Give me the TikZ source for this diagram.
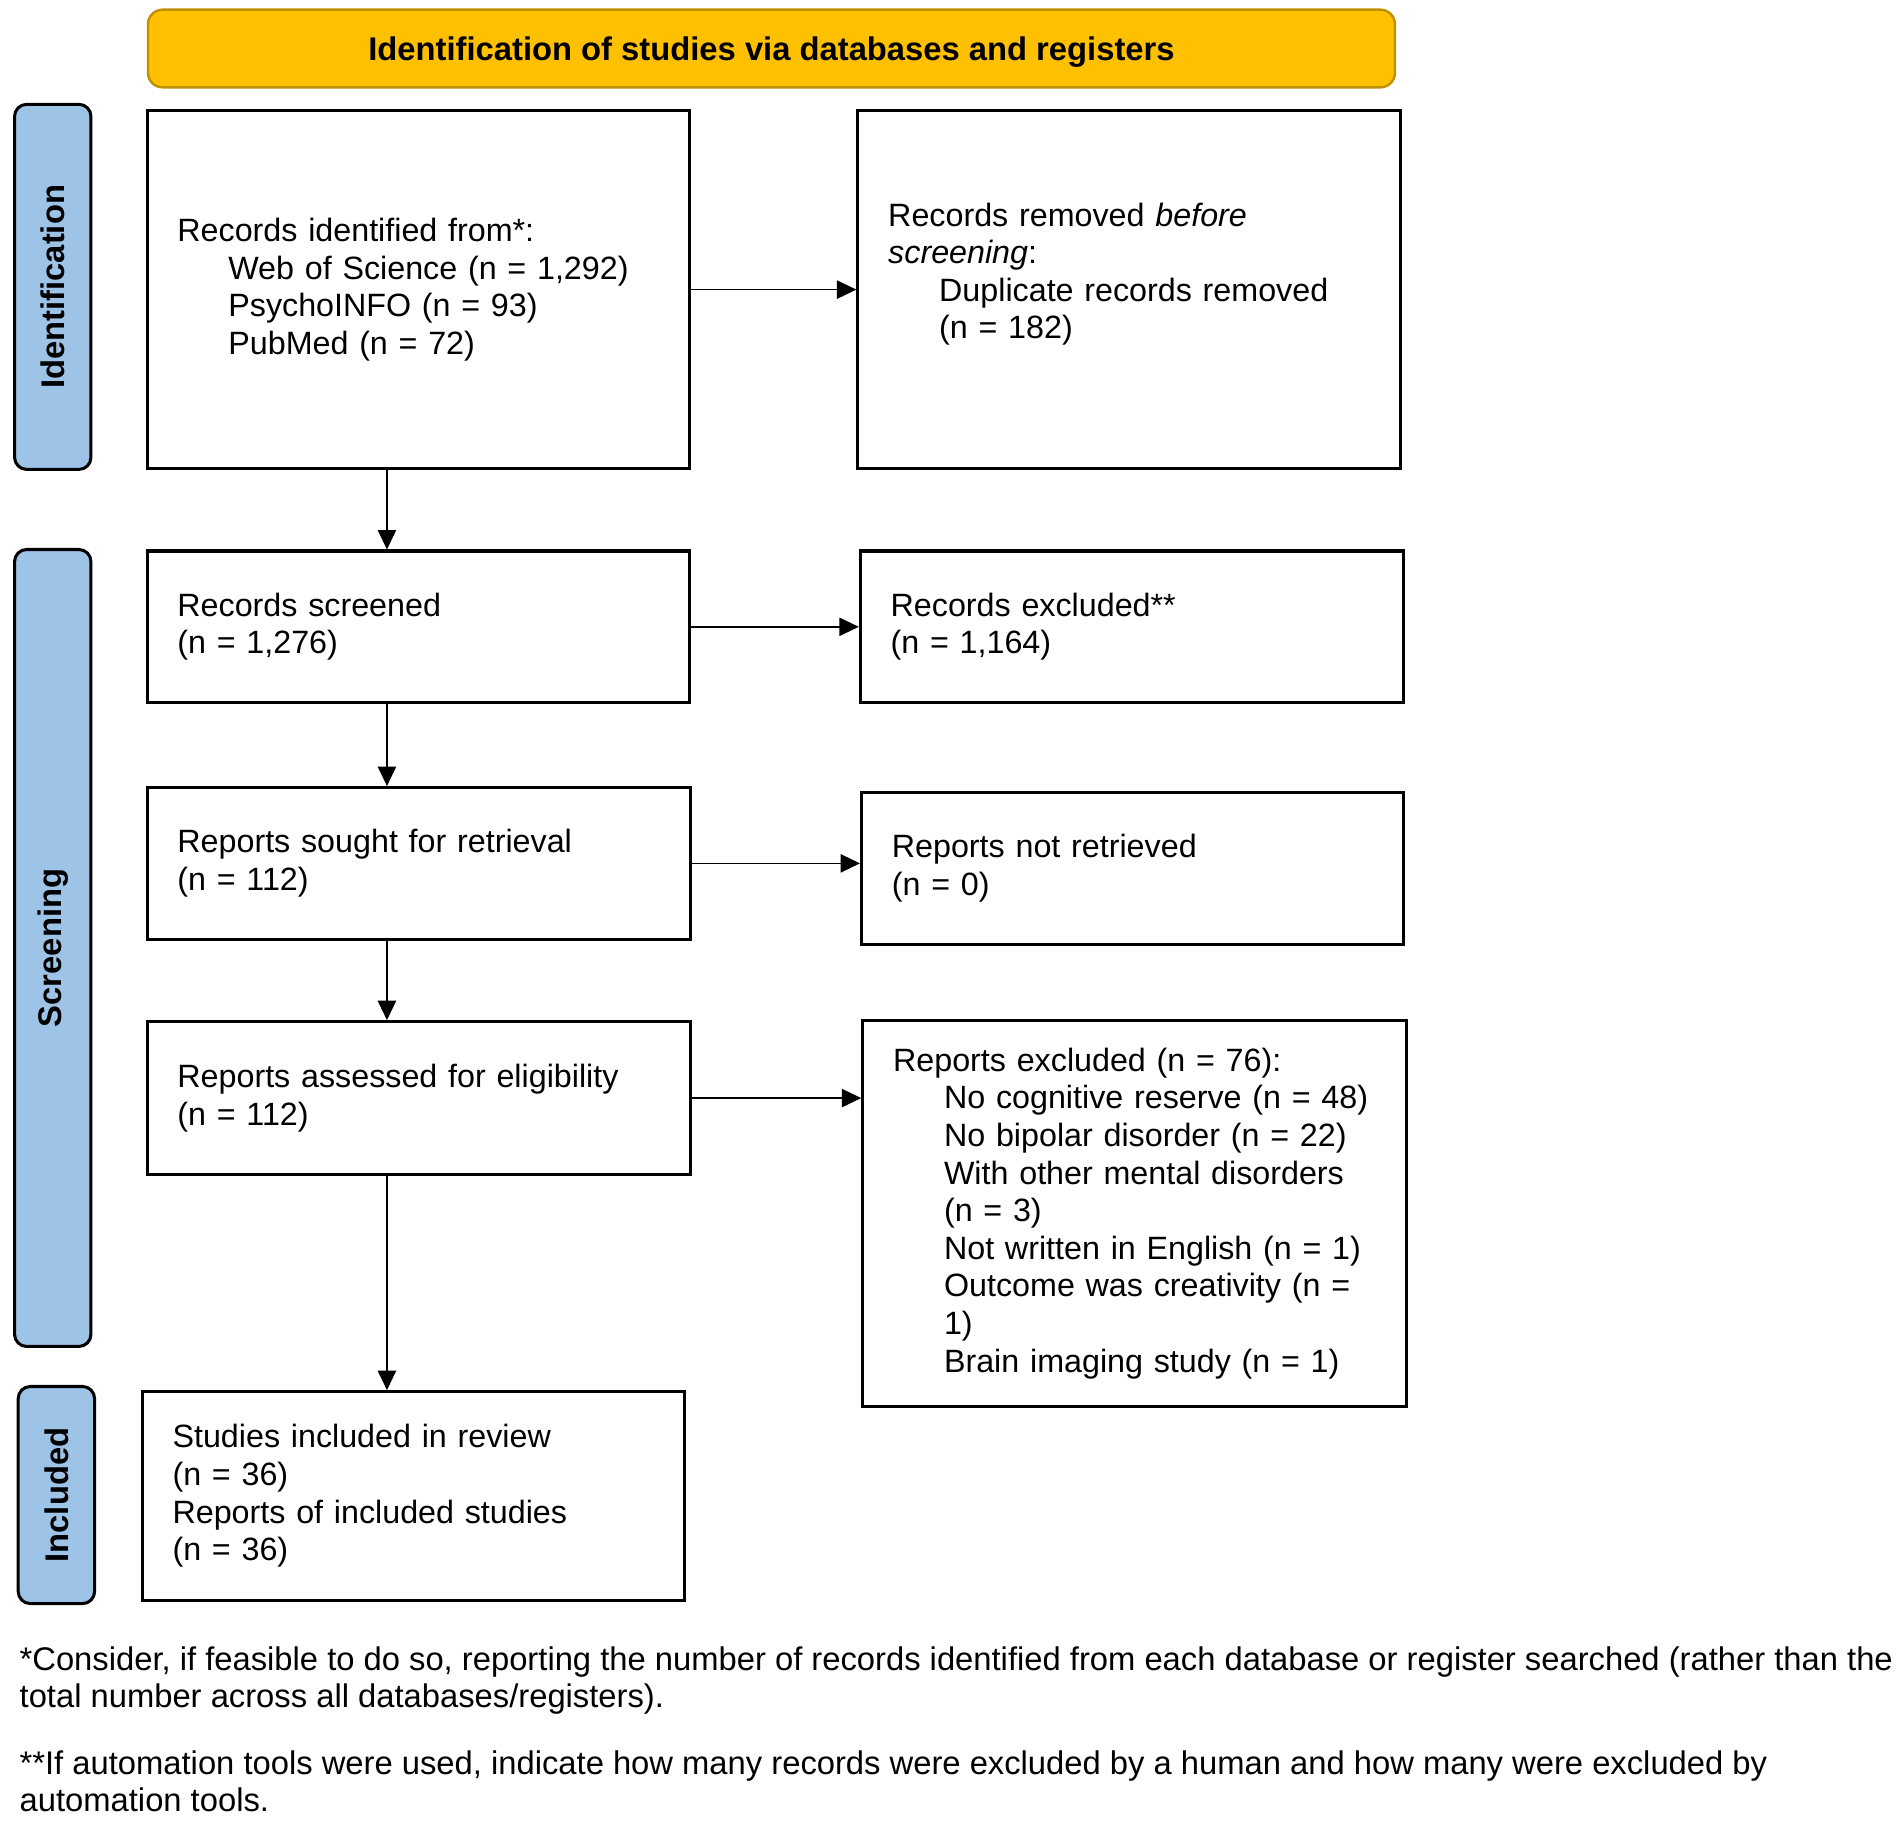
\documentclass[tikz,border=0pt]{standalone}
\usepackage{fontspec}
\setmainfont{Liberation Sans}
\usetikzlibrary{arrows.meta}

\definecolor{bannergold}{RGB}{255,192,0}
\definecolor{bannerline}{RGB}{191,144,0}
\definecolor{stageblue}{RGB}{157,195,230}

\newcommand{\ind}{\hspace*{42pt}}

\begin{document}
\begin{tikzpicture}[x=1pt,y=-1pt,
    every node/.style={font=\fontsize{27}{31}\selectfont},
    box/.style={draw, line width=2.5pt, anchor=north west, align=left, inner xsep=25pt, inner ysep=0pt, font=\fontsize{26.6}{31}\selectfont},
    stage/.style={draw, line width=2.5pt, fill=stageblue, rounded corners=10pt, minimum height=63pt, rotate=90, font=\bfseries\fontsize{27}{31}\selectfont},
    link/.style={-{Triangle[length=16pt,width=15pt]}, line width=1.4pt}]
    \useasboundingbox (0,0) rectangle (1568,1503);

    % Banner
    \node[draw=bannerline, line width=2pt, fill=bannergold, rounded corners=12pt, minimum width=1028pt, minimum height=64pt, text depth=0pt, font=\bfseries\fontsize{27}{31}\selectfont] (banner) at (636,40) {Identification of studies via databases and registers};

    % Stages
    \node[stage, minimum width=301pt] (idlab) at (43.5,236.5) {Identification};
    \node[stage, minimum width=657pt] (scrlab) at (43.5,781.5) {Screening};
    \node[stage, minimum width=179pt] (inclab) at (46.5,1232.5) {Included};

    % Left column
    \node[box, minimum width=447pt, minimum height=295pt, text width=397pt] (ident) at (120,90) {Records identified from*:\\ \ind Web of Science (n = 1,292)\\ \ind PsychoINFO (n = 93)\\ \ind PubMed (n = 72)};
    \node[box, minimum width=447pt, minimum height=125pt, text width=397pt] (screened) at (120,453) {Records screened\\ (n = 1,276)};
    \node[box, minimum width=448pt, minimum height=125pt, text width=398pt] (sought) at (120,648) {Reports sought for retrieval\\ (n = 112)};
    \node[box, minimum width=448pt, minimum height=126pt, text width=398pt] (assessed) at (120,841) {Reports assessed for eligibility\\ (n = 112)};
    \node[box, minimum width=447pt, minimum height=172pt, text width=397pt] (included) at (116,1146) {Studies included in review\\ (n = 36)\\ Reports of included studies\\ (n = 36)};

    % Right column
    \node[box, minimum width=447pt, minimum height=295pt, text width=397pt] (removed) at (706,90) {Records removed \textit{before}\\ \textit{screening}:\\ \ind Duplicate records removed\\ \ind (n = 182)\\ \mbox{}};
    \node[box, minimum width=448pt, minimum height=125pt, text width=398pt] (excluded) at (708,453) {Records excluded**\\ (n = 1,164)};
    \node[box, minimum width=447pt, minimum height=125pt, text width=397pt] (notretr) at (709,652) {Reports not retrieved\\ (n = 0)};
    \node[box, minimum width=448pt, minimum height=318pt, text width=398pt] (repexcl) at (710,840) {Reports excluded (n = 76):\\ \ind No cognitive reserve (n = 48)\\ \ind No bipolar disorder (n = 22)\\ \ind With other mental disorders\\ \ind (n = 3)\\ \ind Not written in English (n = 1)\\ \ind Outcome was creativity (n =\\ \ind 1)\\ \ind Brain imaging study (n = 1)};

    % Arrows
    \coordinate (spine) at (319,0);
    \draw[link] (ident.south -| spine) -- (screened.north -| spine);
    \draw[link] (screened.south -| spine) -- (sought.north -| spine);
    \draw[link] (sought.south -| spine) -- (assessed.north -| spine);
    \draw[link] (assessed.south -| spine) -- (included.north -| spine);
    \draw[link] (ident.east) -- (ident.east -| removed.west);
    \draw[link] (screened.east) -- (screened.east -| excluded.west);
    \draw[link] (sought.east) -- (sought.east -| notretr.west);
    \draw[link] (assessed.east) -- (assessed.east -| repexcl.west);

    % Notes
    \node[anchor=north west, align=left, inner sep=0pt] (note1) at (16,1357) {*Consider, if feasible to do so, reporting the number of records identified from each database or register searched (rather than the\\ total number across all databases/registers).};
    \node[anchor=north west, align=left, inner sep=0pt] (note2) at (16,1443) {**If automation tools were used, indicate how many records were excluded by a human and how many were excluded by\\ automation tools.};
\end{tikzpicture}
\end{document}
